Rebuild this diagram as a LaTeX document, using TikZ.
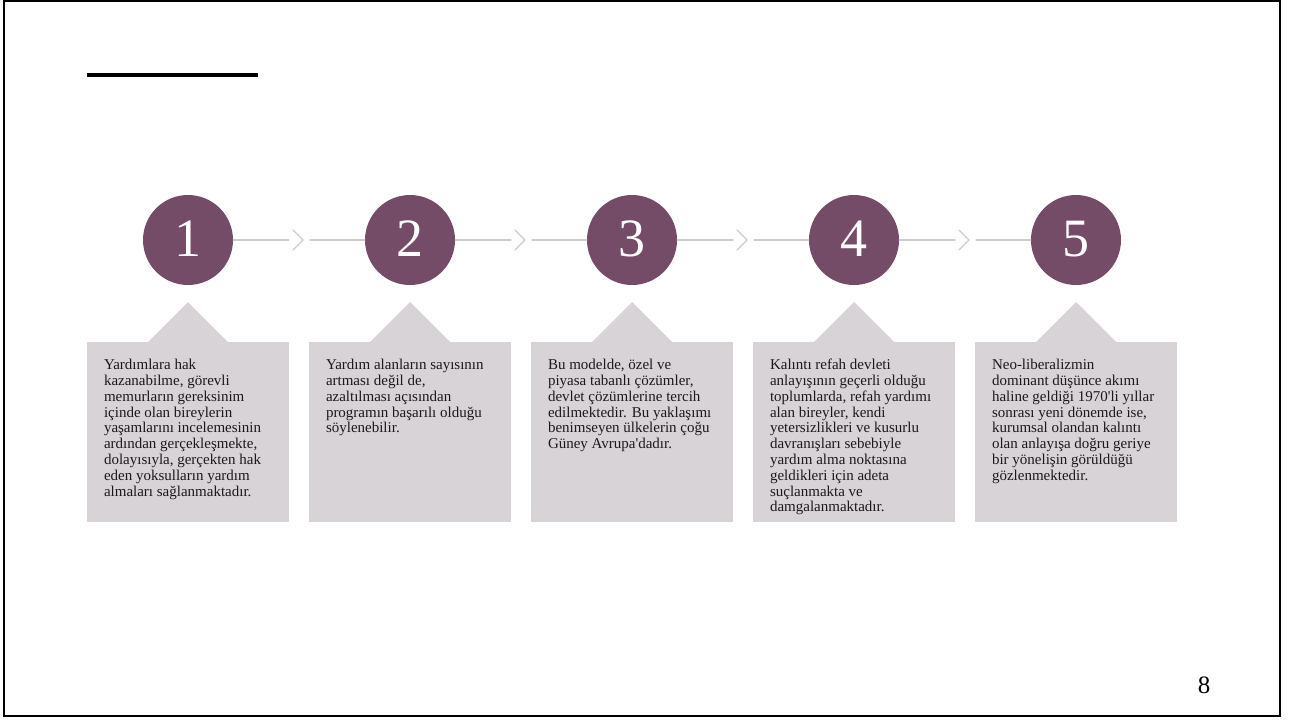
\documentclass[tikz,border=0pt]{standalone}
\usepackage{fontspec}
\setmainfont{Liberation Serif}
\usetikzlibrary{positioning,calc}
\definecolor{plum}{HTML}{744C68}
\definecolor{boxgray}{HTML}{D8D3D7}
\definecolor{linegray}{HTML}{CFCACD}
\definecolor{textdark}{HTML}{1A1A1A}
\begin{document}
\begin{tikzpicture}[x=1pt,y=-1pt,line cap=round]
\tikzset{
  stepnum/.style={circle,fill=plum,minimum size=90pt,inner sep=0pt,text=white,font=\fontsize{54}{54}\selectfont},
  stepbox/.style={fill=boxgray,minimum width=202pt,minimum height=180pt,inner sep=0pt,anchor=north},
  steptext/.style={anchor=north west,align=left,inner sep=0pt,text=textdark,font=\fontsize{15}{15.8}\selectfont},
  link/.style={linegray,line width=1.2pt},
}
\useasboundingbox (0,0) rectangle (1290,720);
% frame and title bar
\draw[line width=2pt] (3.5,1) rectangle (1280,715.5);
\draw[line width=4pt,line cap=butt] (87,74.5) -- (258,74.5);
% steps
\foreach \i/\x in {1/188,2/410,3/632,4/854,5/1076}{
  \node[stepbox] (b\i) at (\x,342) {};
  \fill[boxgray] ([xshift=-40pt]b\i.north) -- ([yshift=40pt]b\i.north) -- ([xshift=40pt]b\i.north) -- cycle;
  \node[stepnum] (c\i) at (\x,240) {\raisebox{2pt}{\i}};
}
\foreach \i/\j in {1/2,2/3,3/4,4/5}{
  \coordinate (m\i) at ($(c\i)!0.5!(c\j)$);
  \draw[link] (c\i) -- ([xshift=-10pt]m\i);
  \draw[link] ([xshift=-6pt,yshift=10pt]m\i) -- ([xshift=4pt]m\i) -- ([xshift=-6pt,yshift=-10pt]m\i);
  \draw[link] ([xshift=11pt]m\i) -- (c\j);
}
% texts
\node[steptext] (t1) at ([xshift=17pt,yshift=-17pt]b1.north west) {Yardımlara hak\\kazanabilme, görevli\\memurların gereksinim\\içinde olan bireylerin\\yaşamlarını incelemesinin\\ardından gerçekleşmekte,\\dolayısıyla, gerçekten hak\\eden yoksulların yardım\\almaları sağlanmaktadır.};
\node[steptext] (t2) at ([xshift=17pt,yshift=-17pt]b2.north west) {Yardım alanların sayısının\\artması değil de,\\azaltılması açısından\\programın başarılı olduğu\\söylenebilir.};
\node[steptext] (t3) at ([xshift=17pt,yshift=-17pt]b3.north west) {Bu modelde, özel ve\\piyasa tabanlı çözümler,\\devlet çözümlerine tercih\\edilmektedir. Bu yaklaşımı\\benimseyen ülkelerin çoğu\\Güney Avrupa\textquotesingle dadır.};
\node[steptext] (t4) at ([xshift=17pt,yshift=-17pt]b4.north west) {Kalıntı refah devleti\\anlayışının geçerli olduğu\\toplumlarda, refah yardımı\\alan bireyler, kendi\\yetersizlikleri ve kusurlu\\davranışları sebebiyle\\yardım alma noktasına\\geldikleri için adeta\\suçlanmakta ve\\damgalanmaktadır.};
\node[steptext] (t5) at ([xshift=17pt,yshift=-17pt]b5.north west) {Neo-liberalizmin\\dominant düşünce akımı\\haline geldiği 1970\textquotesingle li yıllar\\sonrası yeni dönemde ise,\\kurumsal olandan kalıntı\\olan anlayışa doğru geriye\\bir yönelişin görüldüğü\\gözlenmektedir.};
\node[font=\fontsize{25}{25}\selectfont] (pg) at (1204,685) {8};
\end{tikzpicture}
\end{document}
